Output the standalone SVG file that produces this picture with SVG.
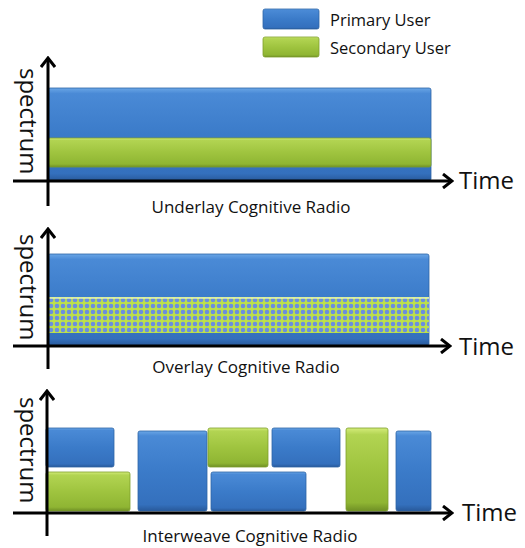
<svg xmlns="http://www.w3.org/2000/svg" width="525" height="548" viewBox="0 0 525 548">
<defs>
<linearGradient id="gBlue" x1="0" y1="0" x2="0" y2="1">
<stop offset="0" stop-color="#6aa6e6"/>
<stop offset="0.06" stop-color="#4a8ad6"/>
<stop offset="0.5" stop-color="#3b7bc9"/>
<stop offset="0.92" stop-color="#3470bd"/>
<stop offset="1" stop-color="#28599a"/>
</linearGradient>
<linearGradient id="gGreen" x1="0" y1="0" x2="0" y2="1">
<stop offset="0" stop-color="#d4ec7a"/>
<stop offset="0.08" stop-color="#b2d452"/>
<stop offset="0.5" stop-color="#9fc43f"/>
<stop offset="0.9" stop-color="#8fb533"/>
<stop offset="1" stop-color="#6f8f25"/>
</linearGradient>
<pattern id="dots" width="6" height="6" patternUnits="userSpaceOnUse" x="48" y="297">
<rect width="6" height="6" fill="#bde04a"/>
<circle cx="3" cy="3" r="2.3" fill="#6a8ee0"/>
</pattern>
<marker id="arr" viewBox="0 0 12 16" refX="10" refY="8" markerWidth="12" markerHeight="16" markerUnits="userSpaceOnUse" orient="auto">
<path d="M1,1 L10,8 L1,15" fill="none" stroke="#000" stroke-width="3"/>
</marker>
</defs>
<style>
.b{fill:url(#gBlue);stroke:#2d64a6;stroke-width:0.8}
.g{fill:url(#gGreen);stroke:#7fa02c;stroke-width:0.8}
.ax{stroke:#000;stroke-width:3;fill:none}
.t{font-family:"Open Sans","Liberation Sans",sans-serif;fill:#111}
.lbl{font-size:24px}
.cap{font-size:17px}
.leg{font-size:16.5px}
</style>
<rect width="525" height="548" fill="#fff"/>

<g id="legend">
<rect class="b" x="263" y="9" width="56" height="20" rx="2"/>
<text class="t leg" x="330" y="26">Primary User</text>
<rect class="g" x="263" y="37" width="56" height="20" rx="2"/>
<text class="t leg" x="330" y="54">Secondary User</text>
</g>

<g id="underlay">
<rect class="b" x="48" y="88" width="383" height="93" rx="2"/>
<rect class="g" x="48" y="138" width="383" height="29" rx="2"/>
<text class="t cap" x="251" y="213" text-anchor="middle">Underlay Cognitive Radio</text>
</g>

<g id="overlay">
<rect class="b" x="48" y="254" width="381" height="92" rx="2"/>
<rect x="48" y="297" width="381" height="36" fill="url(#dots)"/>
<rect x="48" y="297" width="381" height="2" fill="#e8f6c0" opacity="0.7"/>
<text class="t cap" x="246" y="373" text-anchor="middle">Overlay Cognitive Radio</text>
</g>

<g id="interweave">
<rect class="b" x="46" y="428" width="68" height="39" rx="2"/>
<rect class="g" x="46" y="472" width="84" height="39" rx="2"/>
<rect class="b" x="138" y="431" width="69" height="80" rx="2"/>
<rect class="g" x="208" y="428" width="60" height="39" rx="2"/>
<rect class="b" x="211" y="472" width="95" height="39" rx="2"/>
<rect class="b" x="272" y="428" width="68" height="39" rx="2"/>
<rect class="g" x="346" y="428" width="42" height="83" rx="2"/>
<rect class="b" x="396" y="431" width="35" height="80" rx="2"/>
<text class="t cap" x="250" y="542" text-anchor="middle">Interweave Cognitive Radio</text>
</g>

<g id="connectors">
<line class="ax" x1="48" y1="206" x2="48" y2="58" marker-end="url(#arr)"/>
<line class="ax" x1="13" y1="181" x2="452" y2="181" marker-end="url(#arr)"/>
<line class="ax" x1="48" y1="369" x2="48" y2="229" marker-end="url(#arr)"/>
<line class="ax" x1="13" y1="346" x2="450" y2="346" marker-end="url(#arr)"/>
<line class="ax" x1="47" y1="536" x2="47" y2="391" marker-end="url(#arr)"/>
<line class="ax" x1="13" y1="513" x2="452" y2="513" marker-end="url(#arr)"/>
</g>

<g id="labels">
<text class="t lbl" transform="translate(20,68) rotate(90)">spectrum</text>
<text class="t lbl" x="459" y="189">Time</text>
<text class="t lbl" transform="translate(20,234) rotate(90)">spectrum</text>
<text class="t lbl" x="459" y="355">Time</text>
<text class="t lbl" transform="translate(20,397) rotate(90)">spectrum</text>
<text class="t lbl" x="462" y="521">Time</text>
</g>
</svg>
